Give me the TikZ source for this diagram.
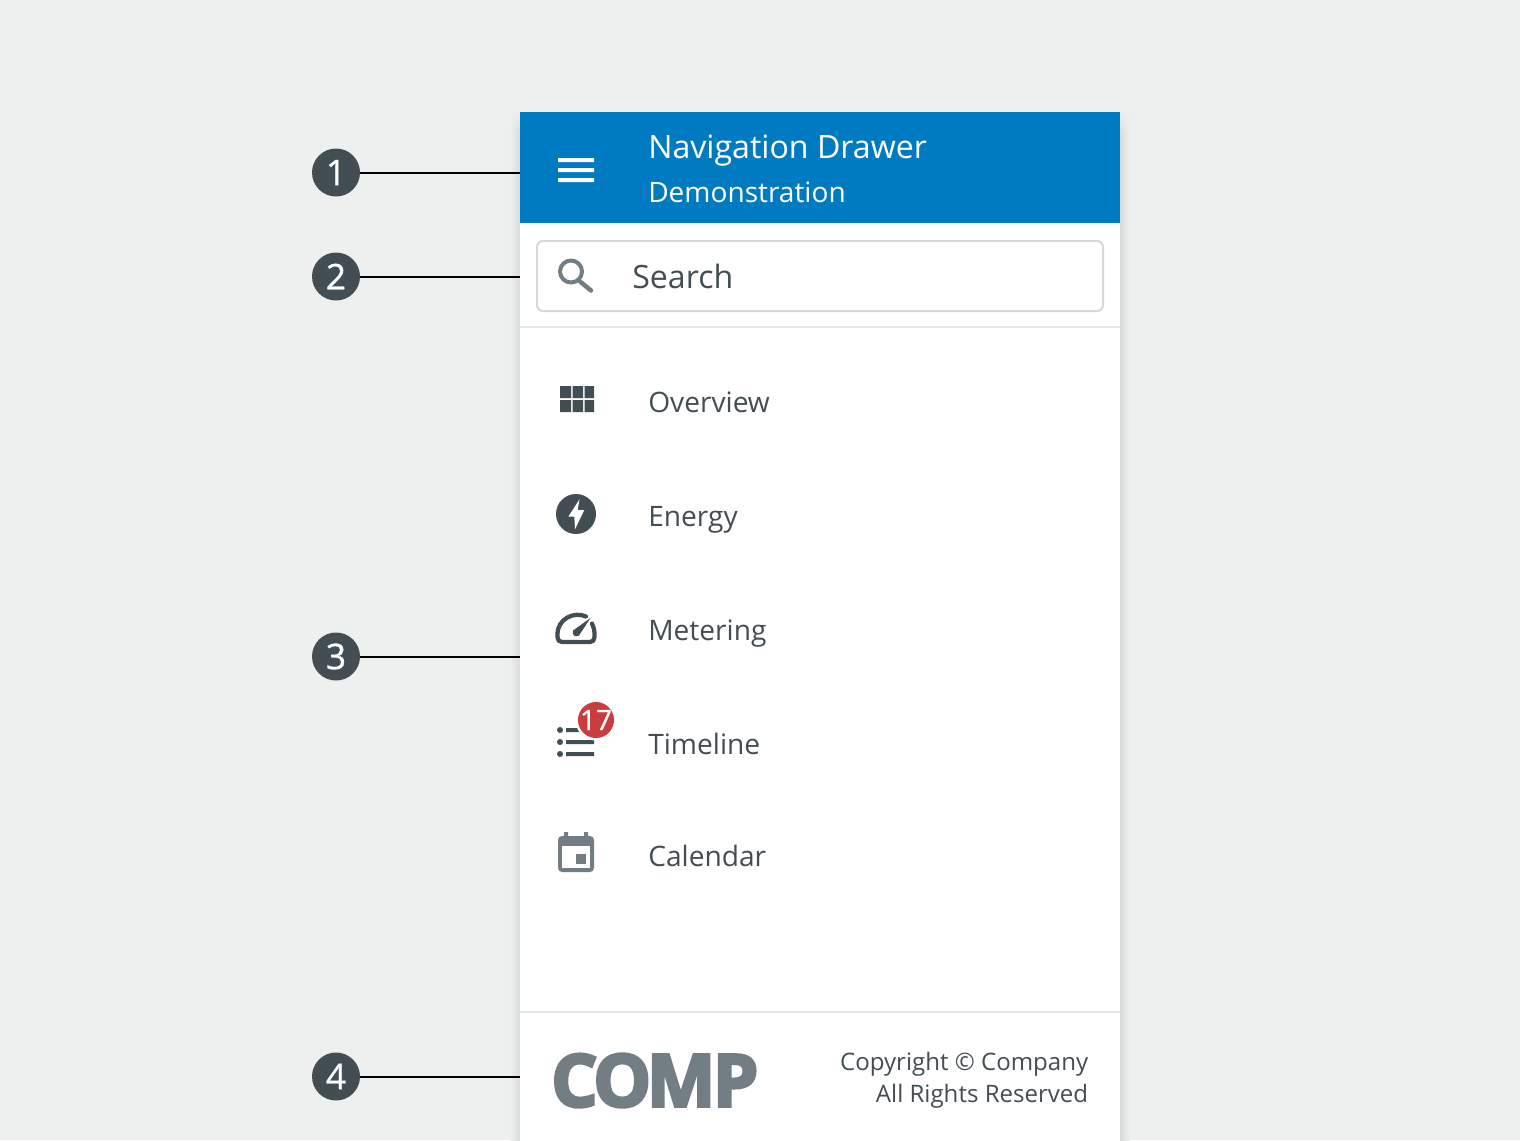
\documentclass[tikz,border=0pt]{standalone}
\usepackage{fontspec}
\usetikzlibrary{fadings}
\setmainfont{Open Sans}
\newfontface\logofont{Open Sans Bold}[FakeBold=4]
\newfontface\digitfont{Open Sans}[FakeBold=0.8]
\definecolor{bgc}{HTML}{EEF0F0}
\definecolor{shadowc}{HTML}{D9DCDC}
\definecolor{bluec}{HTML}{007BC1}
\definecolor{darkc}{HTML}{424E54}
\definecolor{grayc}{HTML}{727E84}
\definecolor{redc}{HTML}{CA3C40}
\definecolor{rulec}{HTML}{E5E7E8}
\definecolor{boxc}{HTML}{D5D8DA}
\tikzset{
  x=0.75pt,y=-0.75pt,
  callout/.style={circle,fill=darkc,text=white,minimum size=36pt,inner sep=0pt,font=\digitfont\fontsize{26.5}{30}\selectfont},
  leader/.style={draw=black,line width=1.5pt},
  label/.style={anchor=base west,inner sep=0pt,text=darkc,font=\fontsize{21.1}{26}\selectfont},
  foot/.style={anchor=base east,inner sep=0pt,text=darkc,font=\fontsize{18.05}{22}\selectfont},
  titletext/.style={anchor=base west,inner sep=0pt,text=white},
}
\begin{document}
\begin{tikzpicture}
\useasboundingbox (0,0) rectangle (1520,1140);
\fill[bgc] (0,0) rectangle (1520,1140);
% drawer shadow
\shade[left color=bgc,right color=shadowc] (510,112) rectangle (520,1140);
\shade[left color=shadowc,right color=bgc] (1120,112) rectangle (1130,1140);
\fill[bgc,path fading=south] (1120,110) rectangle (1131,132);
\fill[bgc,path fading=south] (509,110) rectangle (520,132);
\fill[white] (520,112) rectangle (1120,1140);
% header
\fill[bluec] (520,112) rectangle (1120,223);
\fill[white] (558,158) rectangle (594,162) (558,168) rectangle (594,172) (558,178) rectangle (594,182);
\node[titletext,font=\fontsize{24.1}{30}\selectfont] (title) at (648,158) {Navigation Drawer};
\node[titletext,font=\fontsize{21.05}{26}\selectfont] (subtitle) at (648,202) {Demonstration};
% search
\draw[boxc,line width=1.5pt,fill=white,rounded corners=4.5pt] (537,241) rectangle (1103,311);
\draw[grayc,line width=3pt] (571,271.5) circle[radius=11];
\draw[grayc,line width=3.4pt,line cap=round] (580,281.5) -- (591,290.5);
\node[anchor=base west,inner sep=0pt,text=darkc,font=\fontsize{24.1}{30}\selectfont] (search) at (632,288) {Search};
\fill[rulec] (520,326) rectangle (1120,328);
% overview
\fill[darkc] (560,386) rectangle (571,398) (572.5,386) rectangle (583,398) (584.5,386) rectangle (594,398)
  (560,400) rectangle (571,412) (572.5,400) rectangle (583,412) (584.5,400) rectangle (594,412);
\node[label] (overview) at (648,412.7) {Overview};
% energy
\fill[darkc] (576,514) circle[radius=20];
\fill[white] (579.5,499.3) -- (568.3,516.7) -- (574.3,516.7) -- (575,529.3) -- (584.3,510) -- (577.7,510) -- cycle;
\node[label] (energy) at (648,526.7) {Energy};
% metering
\draw[darkc,line width=3.2pt,line cap=round,line join=round]
  (586,616.5) .. controls (574,611) and (557.5,619) .. (557.5,634)
  -- (557.5,637) .. controls (557.5,640) and (559,642) .. (562,642)
  -- (590,642) .. controls (593,642) and (594.5,640) .. (594.5,637)
  -- (594.5,634) .. controls (594.5,630) and (593.5,626.5) .. (592,623.5);
\fill[darkc] (590.5,618) -- (579,635.5) .. controls (575,638) and (571.5,634.5) .. (573,630.5) -- cycle;
\node[label] (metering) at (648,640.7) {Metering};
% timeline
\fill[darkc] (560,730) circle[radius=3] (560,742) circle[radius=3] (560,754) circle[radius=3];
\fill[darkc] (566,728) rectangle (594,732) (566,740) rectangle (594,744) (566,752) rectangle (594,756);
\fill[white] (596,720) circle[radius=20.5];
\node[circle,fill=redc,text=white,minimum size=27pt,inner sep=-4pt,font=\digitfont\fontsize{21}{24}\selectfont] (badge) at (596,720) {17};
\node[label] (timeline) at (648,754.7) {Timeline};
% calendar
\fill[grayc] (564,832) rectangle (568,838) (584,832) rectangle (588,838);
\fill[grayc,rounded corners=3pt] (558,836) rectangle (594,872);
\fill[white] (562,846) rectangle (590,868);
\fill[grayc] (576,854) rectangle (586,864);
\node[label] (calendar) at (648,866.7) {Calendar};
% footer
\fill[rulec] (520,1011) rectangle (1120,1013);
\node[anchor=base west,inner sep=0pt,text=grayc,font=\logofont\fontsize{54.5}{60}\selectfont] (logo) at (551,1106.5) {C\kern-3.2pt O\kern-3.2pt M\kern-2pt P};
\node[foot] (copy1) at (1088.5,1070.7) {Copyright © Company};
\node[foot] (copy2) at (1088.5,1102.7) {All Rights Reserved};
% callouts
\node[callout] (c1) at (336,172.5) {1};
\node[callout] (c2) at (336,276.5) {2};
\node[callout] (c3) at (336,656.5) {3};
\node[callout] (c4) at (336,1076.5) {4};
\coordinate (e1) at (520,172.5);
\coordinate (e2) at (520,276.5);
\coordinate (e3) at (520,656.5);
\coordinate (e4) at (520,1076.5);
\draw[leader] (c1) -- (e1);
\draw[leader] (c2) -- (e2);
\draw[leader] (c3) -- (e3);
\draw[leader] (c4) -- (e4);
\end{tikzpicture}
\end{document}
